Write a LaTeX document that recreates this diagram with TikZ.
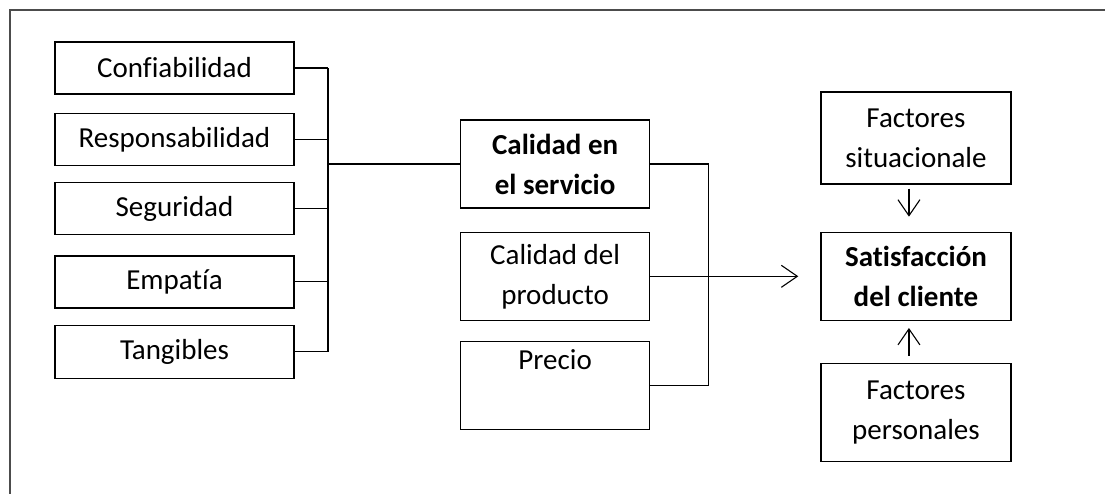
\documentclass[tikz,border=0pt]{standalone}
\usepackage{fontspec}
\setmainfont{Carlito}[Ligatures=NoCommon]
\usetikzlibrary{arrows.meta, positioning}
\tikzset{
  dimbox/.style={rectangle, draw, line width=0.65pt, minimum width=119.5pt, minimum height=26pt, align=center},
  midbox/.style={rectangle, draw, line width=0.65pt, minimum width=94.5pt, minimum height=44pt, align=center},
  sidebox/.style={rectangle, draw, line width=0.65pt, minimum width=95pt, minimum height=44pt, align=center},
  link/.style={line width=0.55pt},
  arrow/.style={line width=0.55pt, -{Straight Barb[length=8pt, width=11pt]}}
}

\begin{document}
\begin{tikzpicture}[x=0.5pt, y=-0.5pt, font=\fontsize{14.5}{20}\selectfont]

\useasboundingbox (0,0) rectangle (1105,494);

% Frame
\draw[gray!60!black, line width=0.8pt] (1105,10) -- (10,10) -- (10,494);

% Service dimensions
\node[dimbox] (conf) at (174.5,68) {Confiabilidad};
\node[dimbox, below=9pt of conf] (resp) {Responsabilidad};
\node[dimbox, below=8pt of resp] (seg) {Seguridad};
\node[dimbox, below=10pt of seg] (emp) {Empatía};
\node[dimbox, below=8pt of emp, minimum height=26.5pt] (tang) {Tangibles};

% Left bus
\coordinate (lbus) at (328,164);
\foreach \n in {conf, resp, seg, emp, tang}
  \draw[link] (\n.east) -- (\n.east -| lbus);
\draw[link] (conf.east -| lbus) -- (tang.east -| lbus);

% Middle column
\node[midbox, right=66pt of lbus] (serv) {\textbf{Calidad en}\\ \textbf{el servicio}};
\node[midbox, below=11.5pt of serv] (prod) {Calidad del\\ producto};
\node[midbox, below=10pt of prod] (prec) {Precio\\ \strut};

\draw[link] (lbus) -- (serv.west);

% Right bus
\coordinate[right=29pt of serv.east] (rbus);
\draw[link] (serv.east) -- (rbus) -- (rbus |- prec.east) -- (prec.east);

% Satisfaction
\node[sidebox, right=85pt of prod] (sat) {\textbf{Satisfacción}\\ \textbf{del cliente}};
\node[sidebox, above=23.5pt of sat, minimum height=46pt] (sit) {Factores\\ situacionale};
\node[sidebox, below=21pt of sat, minimum height=49pt] (pers) {Factores\\ personales};

% Arrows
\draw[arrow, shorten >=11pt] (prod.east) -- (prod.east -| sat.west);
\draw[arrow, shorten <=2pt, shorten >=7.5pt] ([xshift=-3.5pt]sit.south) -- ([xshift=-3.5pt]sat.north);
\draw[arrow, shorten <=3.5pt, shorten >=3.5pt] ([xshift=-3.5pt]pers.north) -- ([xshift=-3.5pt]sat.south);

\end{tikzpicture}
\end{document}
